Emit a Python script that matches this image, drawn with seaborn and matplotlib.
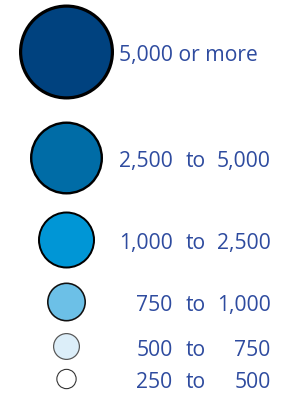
import matplotlib
matplotlib.use("Agg")
import matplotlib.pyplot as plt
import seaborn as sns
import pandas as pd
import numpy as np

# ---- data ----
categories = ["5,000 or more", "2,500 to 5,000", "1,000 to 2,500",
              "750 to 1,000", "500 to 750", "250 to 500"]
lower_labels = ["5,000", "2,500", "1,000", "750", "500", "250"]
upper_labels = [None, "5,000", "2,500", "1,000", "750", "500"]
fill_colors = ["#00427F", "#006CA6", "#0096D6", "#6CC0E7", "#DCEEF9", "#FFFFFF"]

# ---- layout (pixel units) ----
W, H, DPI = 297, 401, 100
cx = 66.5
cy = [52, 158, 240, 302, 346.5, 379]
r_outer = [47.5, 36.5, 28.5, 19.5, 13.5, 10.2]
lw_px = [3.2, 2.4, 2.0, 1.6, 1.2, 1.1]
edge_cols = ["#000000", "#000000", "#000000", "#111111", "#555555", "#333333"]
TXT = "#2E4B9F"

sns.set_theme(style="white")
plt.rcParams['font.family'] = ['Open Sans', 'DejaVu Sans']

fig = plt.figure(figsize=(W / DPI, H / DPI), dpi=DPI)
ax = fig.add_axes([0, 0, 1, 1])

px2pt = 72.0 / DPI
sizes = {}
for c, ro, lw in zip(categories, r_outer, lw_px):
    d_pt = (2 * ro - lw) * px2pt
    sizes[c] = d_pt ** 2

df = pd.DataFrame({"x": [cx] * len(categories), "y": cy, "cat": categories})
sns.scatterplot(data=df, x="x", y="y", hue="cat", size="cat",
                palette=dict(zip(categories, fill_colors)), sizes=sizes,
                legend=False, ax=ax, zorder=3)
coll = ax.collections[0]
coll.set_linewidths([l * px2pt for l in lw_px])
coll.set_edgecolors(edge_cols)

ax.set_xlim(0, W)
ax.set_ylim(H, 0)
ax.axis("off")

fs = 15.2
for i, (lo, hi) in enumerate(zip(lower_labels, upper_labels)):
    yb = cy[i] + 9
    if hi is None:
        ax.text(119, yb, categories[i], color=TXT, fontsize=fs,
                ha="left", va="baseline")
    else:
        ax.text(172.5, yb, lo, color=TXT, fontsize=fs, ha="right", va="baseline")
        ax.text(195.5, yb, "to", color=TXT, fontsize=fs, ha="center", va="baseline")
        ax.text(270.5, yb, hi, color=TXT, fontsize=fs, ha="right", va="baseline")

fig.savefig("out.png", dpi=DPI)
